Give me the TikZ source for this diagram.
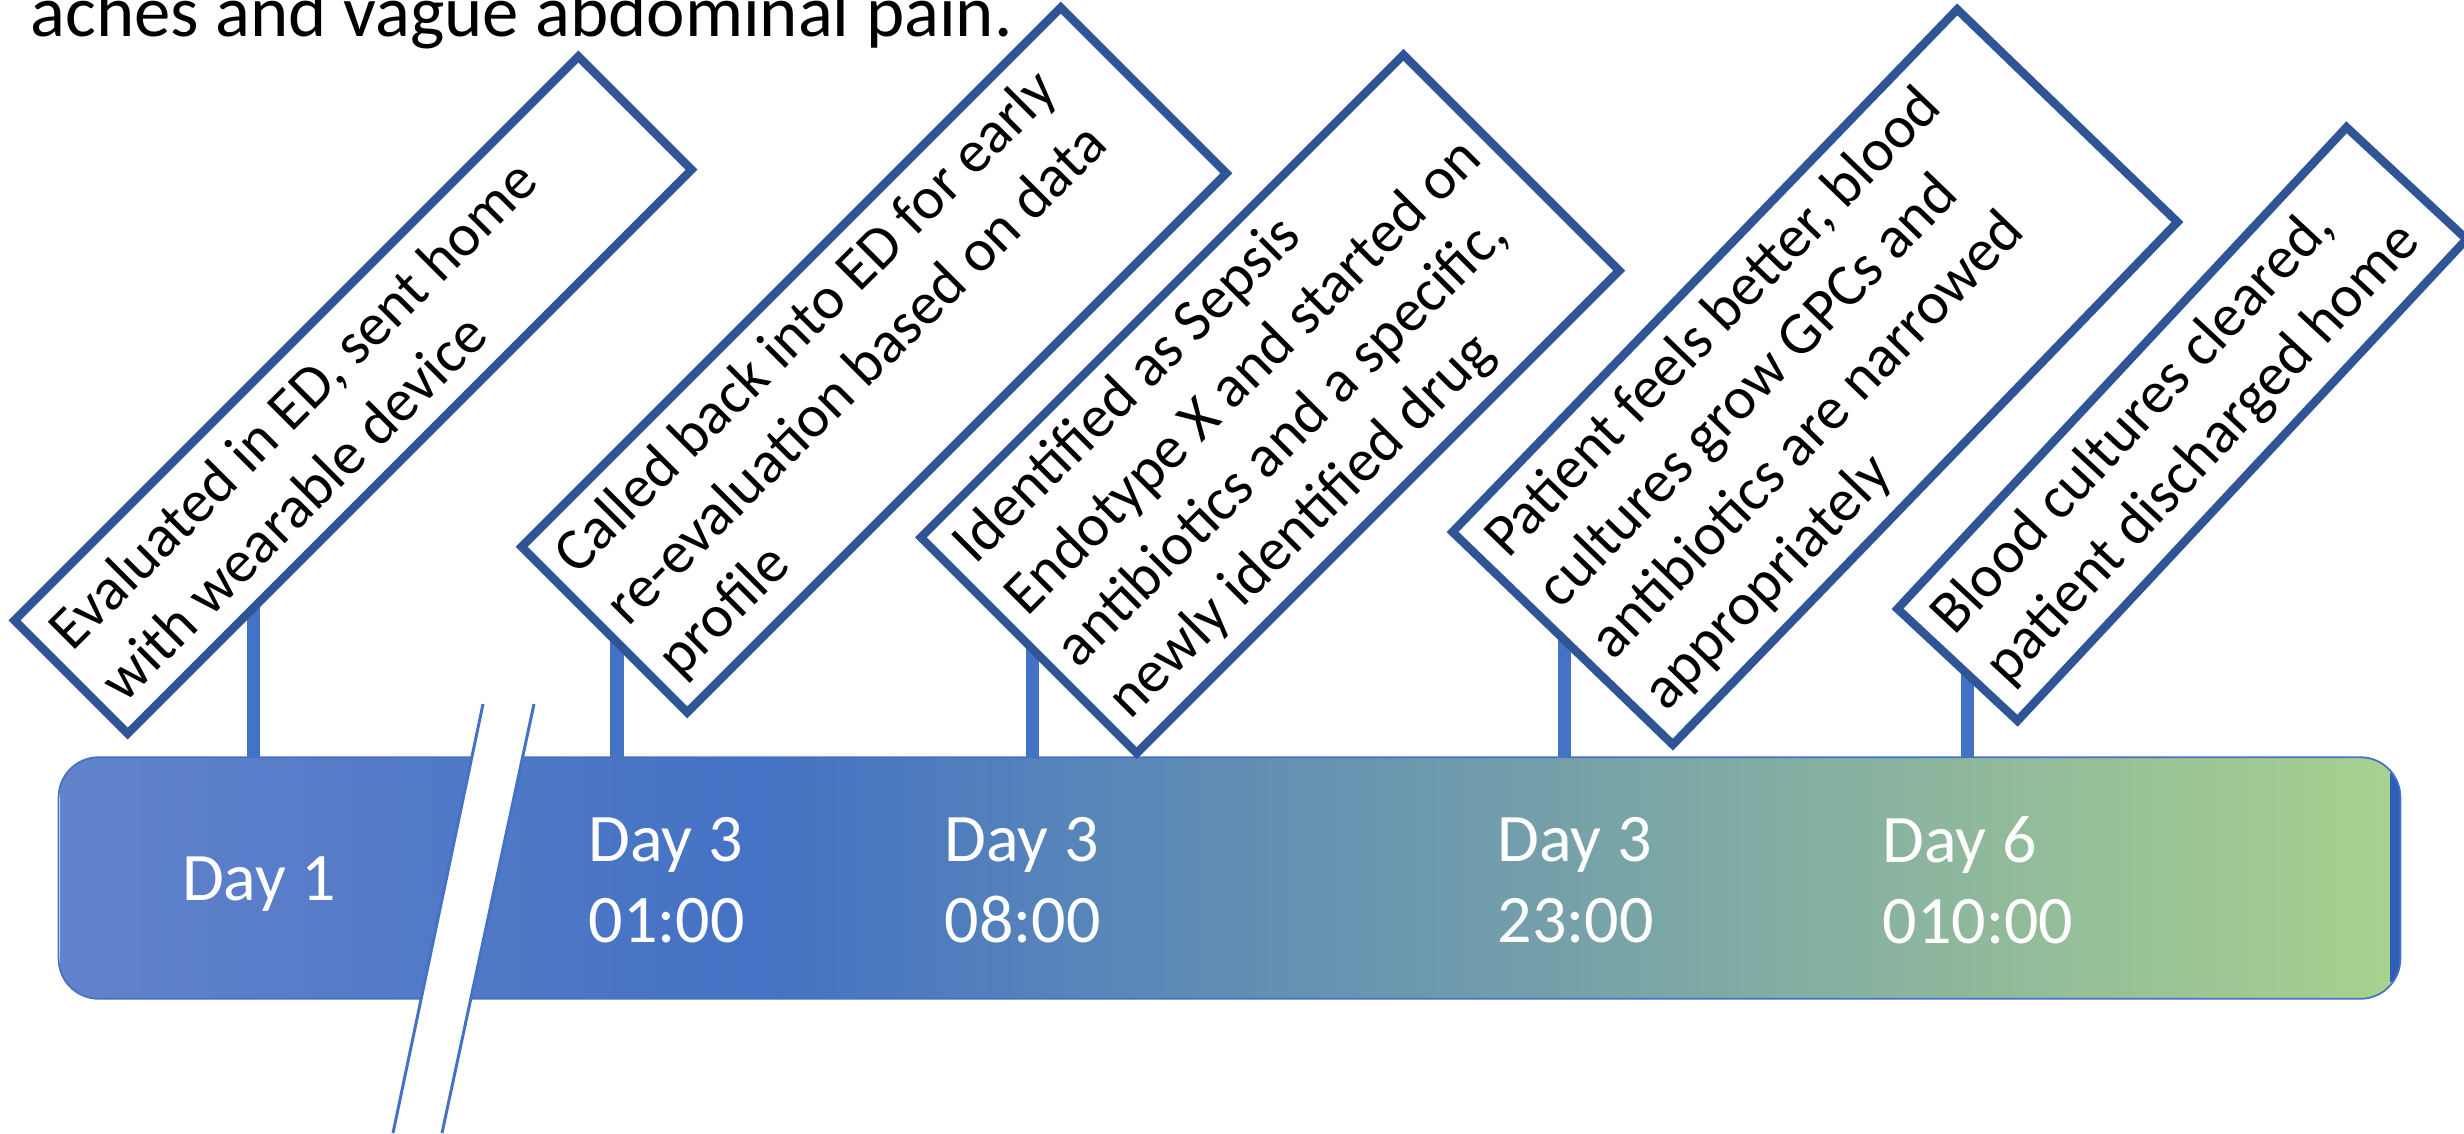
\documentclass[tikz,border=0pt]{standalone}
\usepackage{fontspec}
\setmainfont{Carlito}
\usetikzlibrary{calc}
\definecolor{barL}{RGB}{98,130,203}
\definecolor{barM}{RGB}{68,114,196}
\definecolor{barR}{RGB}{169,209,142}
\definecolor{stemblue}{RGB}{68,114,196}
\definecolor{boxblue}{RGB}{47,85,151}
\definecolor{edgeblue}{RGB}{46,94,184}
\pgfdeclarelayer{back}
\pgfsetlayers{back,main}
\begin{document}
\begin{tikzpicture}[x=0.01cm,y=-0.01cm,
  evbox/.style={draw=boxblue, line width=2.4pt, fill=white, rectangle, inner sep=0pt},
  boxtext/.style={anchor=west, align=left, inner sep=0pt, text=black,
    font=\fontsize{17.07}{20.8}\selectfont},
  daylabel/.style={text=white, align=left, inner sep=0pt,
    font=\fontsize{19.35}{23}\selectfont},
  stem/.style={draw=stemblue, line width=3.8pt},
  breakline/.style={draw=stemblue, line width=0.85pt}]
\useasboundingbox (0,0) rectangle (2464,1133);
\clip (0,0) rectangle (2464,1133);

% lead-in text, cut by the top edge
\node[anchor=base west, inner sep=0pt, font=\fontsize{20.7}{25}\selectfont]
  (intro) at (30,36) {aches and vague abdominal pain.};

% timeline bar with its colour ramp
\node[minimum width=23.39cm, minimum height=2.40cm, inner sep=0pt] (bar) at (1229.5,878) {};
\begin{scope}
  \clip[rounded corners=0.4cm] (bar.north west) rectangle (bar.south east);
  \shade[left color=barL, right color=barM] (60,758) rectangle (761,998);
  \shade[left color=barM, right color=barR] (760,758) rectangle (2399,998);
  \fill[edgeblue] (2390,773) rectangle (2400,982);
\end{scope}
\draw[stemblue, line width=0.5pt, rounded corners=0.4cm] (bar.north west) rectangle (bar.south east);

% break in the time axis
\fill[white] (483,704) -- (534,704) -- (442,1133) -- (393,1133) -- cycle;
\draw[breakline] (483,704) -- (393,1133);
\draw[breakline] (534,704) -- (442,1133);

% event boxes
\node[evbox, rotate=45, minimum width=7.97cm, minimum height=1.60cm] (e1) at (353,395) {};
\node[evbox, rotate=45, minimum width=7.62cm, minimum height=2.34cm] (e2) at (874,360) {};
\node[evbox, rotate=45, minimum width=6.82cm, minimum height=3.05cm] (e3) at (1270,404) {};
\node[evbox, rotate=46, minimum width=7.26cm, minimum height=3.06cm] (e4) at (1815,377) {};
\node[evbox, rotate=47, minimum width=6.58cm, minimum height=1.64cm] (e5) at (2182,424) {};

% their texts, left aligned from the short left side
\node[boxtext, rotate=45] (e1t) at ($(e1.west)!0.22cm!(e1.east)$)
  {Evaluated in ED, sent home\\with wearable device};
\node[boxtext, rotate=45] (e2t) at ($(e2.west)!0.22cm!(e2.east)$)
  {Called back into ED for early\\re-evaluation based on data\\profile};
\node[boxtext, rotate=45] (e3t) at ($(e3.west)!0.22cm!(e3.east)$)
  {Identified as Sepsis\\Endotype X and started on\\antibiotics and a specific,\\newly identified drug};
\node[boxtext, rotate=46] (e4t) at ($(e4.west)!0.22cm!(e4.east)$)
  {Patient feels better, blood\\cultures grow GPCs and\\antibiotics are narrowed\\appropriately};
\node[boxtext, rotate=47] (e5t) at ($(e5.west)!0.22cm!(e5.east)$)
  {Blood cultures cleared,\\patient discharged home};

% stems from each box down to the bar
\begin{pgfonlayer}{back}
  \coordinate (t1) at ($(e1.south west)!0.221!(e1.south east)$);
  \coordinate (t2) at ($(e2.north west)!0.59!(e2.south west)$);
  \coordinate (t3) at ($(e3.north west)!0.53!(e3.south west)$);
  \coordinate (t4) at ($(e4.north west)!0.52!(e4.south west)$);
  \coordinate (t5) at ($(e5.north west)!0.6!(e5.south west)$);
  \foreach \t in {t1,t2,t3,t4,t5}
    \draw[stem] ($(\t)+(0,-12)$) -- (\t |- bar.north);
\end{pgfonlayer}

% dates on the bar
\node[daylabel, anchor=base] (d1) at (259,900) {Day 1};
\node[daylabel, anchor=west] (d2) at (588,880) {Day 3\\01:00};
\node[daylabel, anchor=west] (d3) at (944,880) {Day 3\\08:00};
\node[daylabel, anchor=west] (d4) at (1497,880) {Day 3\\23:00};
\node[daylabel, anchor=west] (d5) at (1882,880) {Day 6\\010:00};
\end{tikzpicture}
\end{document}
